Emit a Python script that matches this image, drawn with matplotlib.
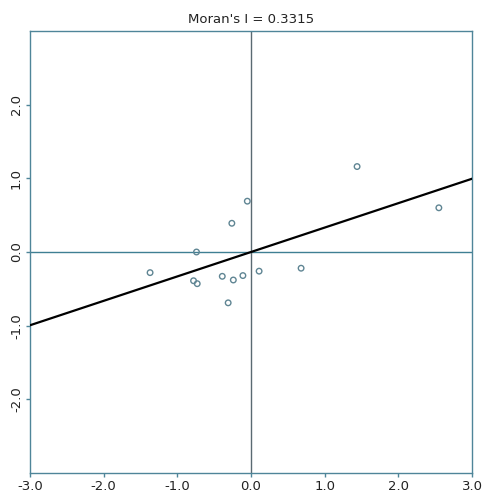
import numpy as np
import matplotlib.pyplot as plt

# standardized variable (x) and its spatial lag (y)
x_vals = [-0.05, -0.26, -0.74, -1.37, -0.78, -0.73, -0.39, -0.24, -0.11, 0.11, 0.68, -0.31, 1.44, 2.55]
y_vals = [0.69, 0.39, 0.00, -0.28, -0.39, -0.43, -0.33, -0.38, -0.32, -0.26, -0.22, -0.69, 1.16, 0.60]
morans_i = 0.3315

x_ticks = [-3.0, -2.0, -1.0, 0.0, 1.0, 2.0, 3.0]
y_ticks = [-2.0, -1.0, 0.0, 1.0, 2.0]

frame_col = '#4f8599'
text_col = '#222222'

fig = plt.figure(figsize=(4.87, 4.97), dpi=100)
ax = fig.add_axes([0.0616, 0.0483, 0.9076, 0.8893])

ax.set_xlim(-3, 3)
ax.set_ylim(-3, 3)

# zero lines
ax.axhline(0, color='#3f7f93', linewidth=1.0, zorder=1)
ax.axvline(0, color='#5a6a72', linewidth=1.0, zorder=1)

# regression line (slope = Moran's I)
xl = np.array([-3, 3])
ax.plot(xl, morans_i * xl, color='black', linewidth=1.6, zorder=3)

# points
ax.scatter(x_vals, y_vals, s=16, facecolors='none', edgecolors='#5f8593', linewidths=1.0, zorder=4)

for sp in ax.spines.values():
    sp.set_color(frame_col)
    sp.set_linewidth(1.0)

ax.set_xticks(x_ticks)
ax.set_xticklabels([f'{v:.1f}' for v in x_ticks])
ax.set_yticks(y_ticks)
ax.set_yticklabels([f'{v:.1f}' for v in y_ticks], rotation=90, va='center')
ax.tick_params(axis='both', length=3, width=1, color=frame_col, labelsize=9.5, labelcolor=text_col, pad=2)

ax.set_title("Moran's I = %.4f" % morans_i, fontsize=9.5, color=text_col, pad=6)

fig.savefig('out.png', dpi=100)
